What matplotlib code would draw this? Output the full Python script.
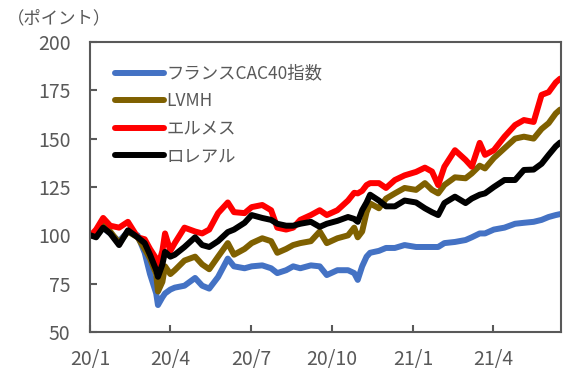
import numpy as np
import pandas as pd
import matplotlib
matplotlib.use('Agg')
import matplotlib.pyplot as plt

plt.rcParams['font.family'] = ['Noto Sans CJK JP', 'DejaVu Sans']

dates = ["2020-01-02", "2020-01-08", "2020-01-16", "2020-01-24", "2020-02-03", "2020-02-13",
         "2020-02-24", "2020-03-03", "2020-03-09", "2020-03-16", "2020-03-18", "2020-03-23",
         "2020-03-26", "2020-04-01", "2020-04-06", "2020-04-17", "2020-04-29", "2020-05-07",
         "2020-05-15", "2020-05-25", "2020-06-05", "2020-06-12", "2020-06-24", "2020-07-02",
         "2020-07-14", "2020-07-24", "2020-07-31", "2020-08-10", "2020-08-18", "2020-08-26",
         "2020-09-07", "2020-09-17", "2020-09-25", "2020-10-07", "2020-10-19", "2020-10-26",
         "2020-10-30", "2020-11-04", "2020-11-09", "2020-11-13", "2020-11-23", "2020-12-01",
         "2020-12-11", "2020-12-22", "2021-01-04", "2021-01-14", "2021-01-22", "2021-01-29",
         "2021-02-05", "2021-02-17", "2021-03-01", "2021-03-08", "2021-03-17", "2021-03-23",
         "2021-04-02", "2021-04-14", "2021-04-26", "2021-05-06", "2021-05-17", "2021-05-26",
         "2021-06-03", "2021-06-11", "2021-06-16"]

cac40 = [100, 101, 104, 101, 97, 102, 100, 91, 80, 70, 64, 68, 70, 72, 73, 74, 78, 74,
         72.5, 78.5, 88, 84, 83, 84, 84.5, 83, 80.5, 82, 84, 83, 84.5, 84, 79.5, 82, 82, 80.5,
         77, 84, 89, 91, 92, 93.5, 93.5, 95, 94, 94, 94, 94, 96, 96.6, 97.6, 99, 101, 101,
         103, 104, 106, 106.5, 107, 108, 109.5, 110.5, 111]
lvmh = [100, 101, 106, 102, 96, 102, 99, 93, 88, 80, 71, 76, 84, 80, 82, 87, 89, 85,
        82.5, 89, 96, 90, 93, 96, 98.5, 97, 91, 93, 95, 96, 97, 102, 96, 98.5, 100, 104,
        99, 102, 112, 116.5, 114, 119, 121.7, 124.5, 123.5, 127, 123.5, 121.7, 126, 130,
        129.5, 132, 136, 134.6, 140, 145, 150, 151, 150, 155, 158, 163, 165]
hermes = [100, 103, 109, 105, 104, 107, 99, 98, 93, 88, 84, 92, 101, 92, 96, 104, 102, 101,
          103, 111.5, 117, 112, 111.5, 114.6, 115.7, 113, 104, 103, 104, 108, 110.5, 113,
          110.5, 113, 118, 122, 121.7, 123, 126, 127, 127, 124.5, 128.6, 131, 132.8, 135,
          133, 126, 135.5, 144, 139, 135.5, 147.8, 141.6, 144, 151, 157, 159.6, 158.6,
          172.6, 174, 179, 181]
loreal = [100, 99, 104, 101, 95, 102.6, 99, 96, 90, 82, 78.6, 85, 91.5, 89, 90, 94, 99, 95,
          94, 97, 101.7, 103, 106.5, 110.5, 109, 108, 106, 105, 105, 106, 107, 104.4, 106,
          107.5, 109.5, 108.5, 107, 113, 117, 121, 118, 115, 115, 118, 117, 114, 112, 110.5,
          116.7, 120, 116.7, 119, 121, 121.7, 125, 128.6, 128.6, 133.8, 134, 137, 141.6,
          146, 148]

names = ["フランスCAC40指数", "LVMH", "エルメス", "ロレアル"]
colors = ["#4472C4", "#7F6000", "#FF0000", "#000000"]

x = pd.to_datetime(dates)
grey = "#595959"

fig = plt.figure(figsize=(5.69, 3.77), dpi=100)
ax = fig.add_axes([0.158, 0.119, 0.828, 0.770])

for vals, name, c in zip([cac40, lvmh, hermes, loreal], names, colors):
    ax.plot(x, vals, color=c, lw=4.3, label=name, solid_capstyle='round')

ax.set_ylim(50, 200)
ax.set_yticks(np.arange(50, 201, 25))
ax.set_xlim(pd.Timestamp("2020-01-01"), pd.Timestamp("2021-06-17"))
xt = pd.to_datetime(["2020-01-01", "2020-04-01", "2020-07-01", "2020-10-01",
                     "2021-01-01", "2021-04-01"])
ax.set_xticks(xt)
ax.set_xticklabels(["20/1", "20/4", "20/7", "20/10", "21/1", "21/4"])

for s in ax.spines.values():
    s.set_color(grey)
    s.set_linewidth(1.5)
ax.tick_params(direction='in', length=5, width=1.5, color=grey,
               labelcolor=grey, labelsize=14)
ax.tick_params(axis='y', pad=14)
ax.tick_params(axis='x', pad=12)

leg = ax.legend(loc='upper left', frameon=False, fontsize=12.5,
                handlelength=2.8, handletextpad=0.15, labelspacing=0.55,
                bbox_to_anchor=(0.02, 0.975))
for t in leg.get_texts():
    t.set_color(grey)

fig.text(0.012, 0.975, "（ポイント）", fontsize=12.5, color=grey, va='top', ha='left')

fig.savefig('out.png', dpi=100)
